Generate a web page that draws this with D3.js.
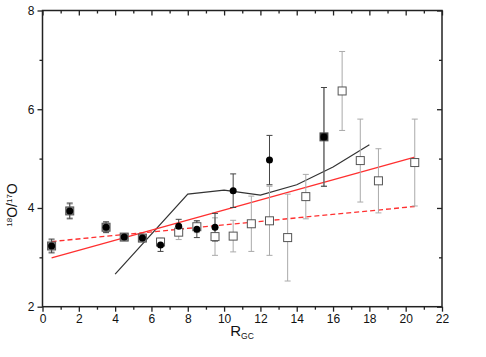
<!DOCTYPE html>
<html>
<head>
<meta charset="utf-8">
<script src="https://cdn.jsdelivr.net/npm/d3@7"></script>
<style>
  body { margin: 0; background: #fff; }
  svg { font-family: "Liberation Sans", Arial, sans-serif; }
</style>
</head>
<body>
<div id="vis"></div>
<script>
// Constants for the chart
const FRAME_WIDTH = 486;
const FRAME_HEIGHT = 357;
const MARGINS = {left: 42.5, right: 44, top: 10.5, bottom: 50.3};
const VIS_WIDTH = FRAME_WIDTH - (MARGINS.left + MARGINS.right);
const VIS_HEIGHT = FRAME_HEIGHT - (MARGINS.top + MARGINS.bottom);

// filled circles (with error)
const CIRCLE_X = [0.5, 1.5, 3.5, 4.5, 5.5, 6.5, 7.5, 8.5, 9.5, 10.5, 12.5, 15.5];
const CIRCLE_Y = [3.23, 3.94, 3.61, 3.41, 3.39, 3.25, 3.63, 3.57, 3.61, 4.35, 4.97, 5.44];
const CIRCLE_ERR = [0.14, 0.16, 0.11, 0.06, 0.06, 0.13, 0.14, 0.17, 0.28, 0.34, 0.50, 1.0];

// open squares (with error)
const SQUARE_X = [0.5, 1.5, 3.5, 4.5, 5.5, 6.5, 7.5, 8.5, 9.5, 10.5, 11.5, 12.5, 13.5, 14.5, 15.5, 16.5, 17.5, 18.5, 20.5];
const SQUARE_Y = [3.23, 3.94, 3.61, 3.41, 3.39, 3.31, 3.51, 3.62, 3.42, 3.43, 3.68, 3.74, 3.40, 4.23, 5.44, 6.37, 4.96, 4.55, 4.92];
const SQUARE_ERR = [0.12, 0.14, 0.09, 0.05, 0.05, 0.08, 0.15, 0.12, 0.38, 0.32, 0.56, 0.70, 0.88, 0.45, 1.0, 0.80, 0.84, 0.65, 0.88];

// model line (black)
const MODEL_X = [4, 8, 10, 12, 14, 16, 18];
const MODEL_Y = [2.66, 4.28, 4.36, 4.26, 4.47, 4.83, 5.28];

// linear fits (red)
const FIT_X = [0.5, 20.5];
const FIT_SOLID = [2.99, 5.03];
const FIT_DASHED = [3.32, 4.03];

const X_TICKS = [0, 2, 4, 6, 8, 10, 12, 14, 16, 18, 20, 22];
const Y_TICKS = [2, 4, 6, 8];

const FRAME = d3.select("#vis")
    .append("svg")
    .attr("width", FRAME_WIDTH)
    .attr("height", FRAME_HEIGHT);

const X_SCALE = d3.scaleLinear().domain([0, 22]).range([0, VIS_WIDTH]);
const Y_SCALE = d3.scaleLinear().domain([2, 8]).range([VIS_HEIGHT, 0]);

const G = FRAME.append("g")
    .attr("transform", "translate(" + MARGINS.left + "," + MARGINS.top + ")");

// lines
const line = d3.line().x((d) => X_SCALE(d[0])).y((d) => Y_SCALE(d[1]));

G.append("path")
    .attr("d", line(MODEL_X.map((x, i) => [x, MODEL_Y[i]])))
    .attr("fill", "none").attr("stroke", "#333").attr("stroke-width", 1.2);

G.append("path")
    .attr("d", line(FIT_X.map((x, i) => [x, FIT_SOLID[i]])))
    .attr("fill", "none").attr("stroke", "#ff3030").attr("stroke-width", 1.3);

G.append("path")
    .attr("d", line(FIT_X.map((x, i) => [x, FIT_DASHED[i]])))
    .attr("fill", "none").attr("stroke", "#ff3030").attr("stroke-width", 1.3)
    .attr("stroke-dasharray", "5,3");

// error bars helper
function errorBars(xs, ys, errs, color, width) {
    const data = xs.map((x, i) => ({x: x, y: ys[i], e: errs[i]}));
    const g = G.append("g").attr("stroke", color).attr("stroke-width", width);
    g.selectAll("line.v").data(data).enter().append("line")
        .attr("x1", (d) => X_SCALE(d.x)).attr("x2", (d) => X_SCALE(d.x))
        .attr("y1", (d) => Y_SCALE(d.y + d.e)).attr("y2", (d) => Y_SCALE(d.y - d.e));
    g.selectAll("line.t").data(data).enter().append("line")
        .attr("x1", (d) => X_SCALE(d.x) - 3).attr("x2", (d) => X_SCALE(d.x) + 3)
        .attr("y1", (d) => Y_SCALE(d.y + d.e)).attr("y2", (d) => Y_SCALE(d.y + d.e));
    g.selectAll("line.b").data(data).enter().append("line")
        .attr("x1", (d) => X_SCALE(d.x) - 3).attr("x2", (d) => X_SCALE(d.x) + 3)
        .attr("y1", (d) => Y_SCALE(d.y - d.e)).attr("y2", (d) => Y_SCALE(d.y - d.e));
    return data;
}

const SQ = errorBars(SQUARE_X, SQUARE_Y, SQUARE_ERR, "#aaa", 1);
const CI = errorBars(CIRCLE_X, CIRCLE_Y, CIRCLE_ERR, "#444", 1);

// squares
G.selectAll("rect.sq").data(SQ).enter().append("rect")
    .attr("x", (d) => X_SCALE(d.x) - 4).attr("y", (d) => Y_SCALE(d.y) - 4)
    .attr("width", 8).attr("height", 8)
    .attr("fill", (d) => d.x < 6 ? "#888" : (d.x === 15.5 ? "#222" : "#fff"))
    .attr("stroke", "#555").attr("stroke-width", 1);

// filled circles
G.selectAll("circle.pt").data(CI).enter().append("circle")
    .attr("cx", (d) => X_SCALE(d.x)).attr("cy", (d) => Y_SCALE(d.y))
    .attr("r", 3.5).attr("fill", "#000");

// axes
const AXIS_COLOR = "#222";
function styleAxis(g) {
    g.select(".domain").remove();
    g.selectAll("line").attr("stroke", AXIS_COLOR).attr("stroke-width", 1.3);
    g.selectAll("text").attr("font-size", "12px").attr("fill", "#111")
        .attr("font-family", "Liberation Sans, Arial, sans-serif");
}

// bottom major + minor
G.append("g").attr("transform", "translate(0," + VIS_HEIGHT + ")")
    .call(d3.axisBottom(X_SCALE).tickValues(X_TICKS).tickSize(5).tickPadding(3).tickFormat(d3.format("d")))
    .call(styleAxis);
G.append("g").attr("transform", "translate(0," + VIS_HEIGHT + ")")
    .call(d3.axisBottom(X_SCALE).tickValues(d3.range(1, 22, 2)).tickSize(3).tickFormat(""))
    .call(styleAxis);
// top (inward)
G.append("g")
    .call(d3.axisBottom(X_SCALE).tickValues(X_TICKS).tickSize(5).tickFormat(""))
    .call(styleAxis);
G.append("g")
    .call(d3.axisBottom(X_SCALE).tickValues(d3.range(1, 22, 2)).tickSize(3).tickFormat(""))
    .call(styleAxis);
// left
G.append("g")
    .call(d3.axisLeft(Y_SCALE).tickValues(Y_TICKS).tickSize(5).tickPadding(3).tickFormat(d3.format("d")))
    .call(styleAxis);
G.append("g")
    .call(d3.axisLeft(Y_SCALE).tickValues([3, 5, 7]).tickSize(3).tickFormat(""))
    .call(styleAxis);
// right (inward)
G.append("g").attr("transform", "translate(" + VIS_WIDTH + ",0)")
    .call(d3.axisLeft(Y_SCALE).tickValues(Y_TICKS).tickSize(5).tickFormat(""))
    .call(styleAxis);
G.append("g").attr("transform", "translate(" + VIS_WIDTH + ",0)")
    .call(d3.axisLeft(Y_SCALE).tickValues([3, 5, 7]).tickSize(3).tickFormat(""))
    .call(styleAxis);

// frame
G.append("rect")
    .attr("width", VIS_WIDTH).attr("height", VIS_HEIGHT)
    .attr("fill", "none").attr("stroke", AXIS_COLOR).attr("stroke-width", 1.5);

// axis titles
const xt = FRAME.append("text")
    .attr("x", 242).attr("y", 336)
    .attr("text-anchor", "middle").attr("font-size", "15px").attr("fill", "#111");
xt.append("tspan").text("R");
xt.append("tspan").attr("font-size", "8.5px").attr("dy", 3).text("GC");

const yt = FRAME.append("text")
    .attr("transform", "translate(17,205) rotate(-90)")
    .attr("text-anchor", "middle").attr("font-size", "14px").attr("fill", "#111");
yt.append("tspan").attr("font-size", "8px").attr("dy", -5).text("18");
yt.append("tspan").attr("dy", 5).text("O/");
yt.append("tspan").attr("font-size", "8px").attr("dy", -5).text("17");
yt.append("tspan").attr("dy", 5).text("O");
</script>
</body>
</html>
